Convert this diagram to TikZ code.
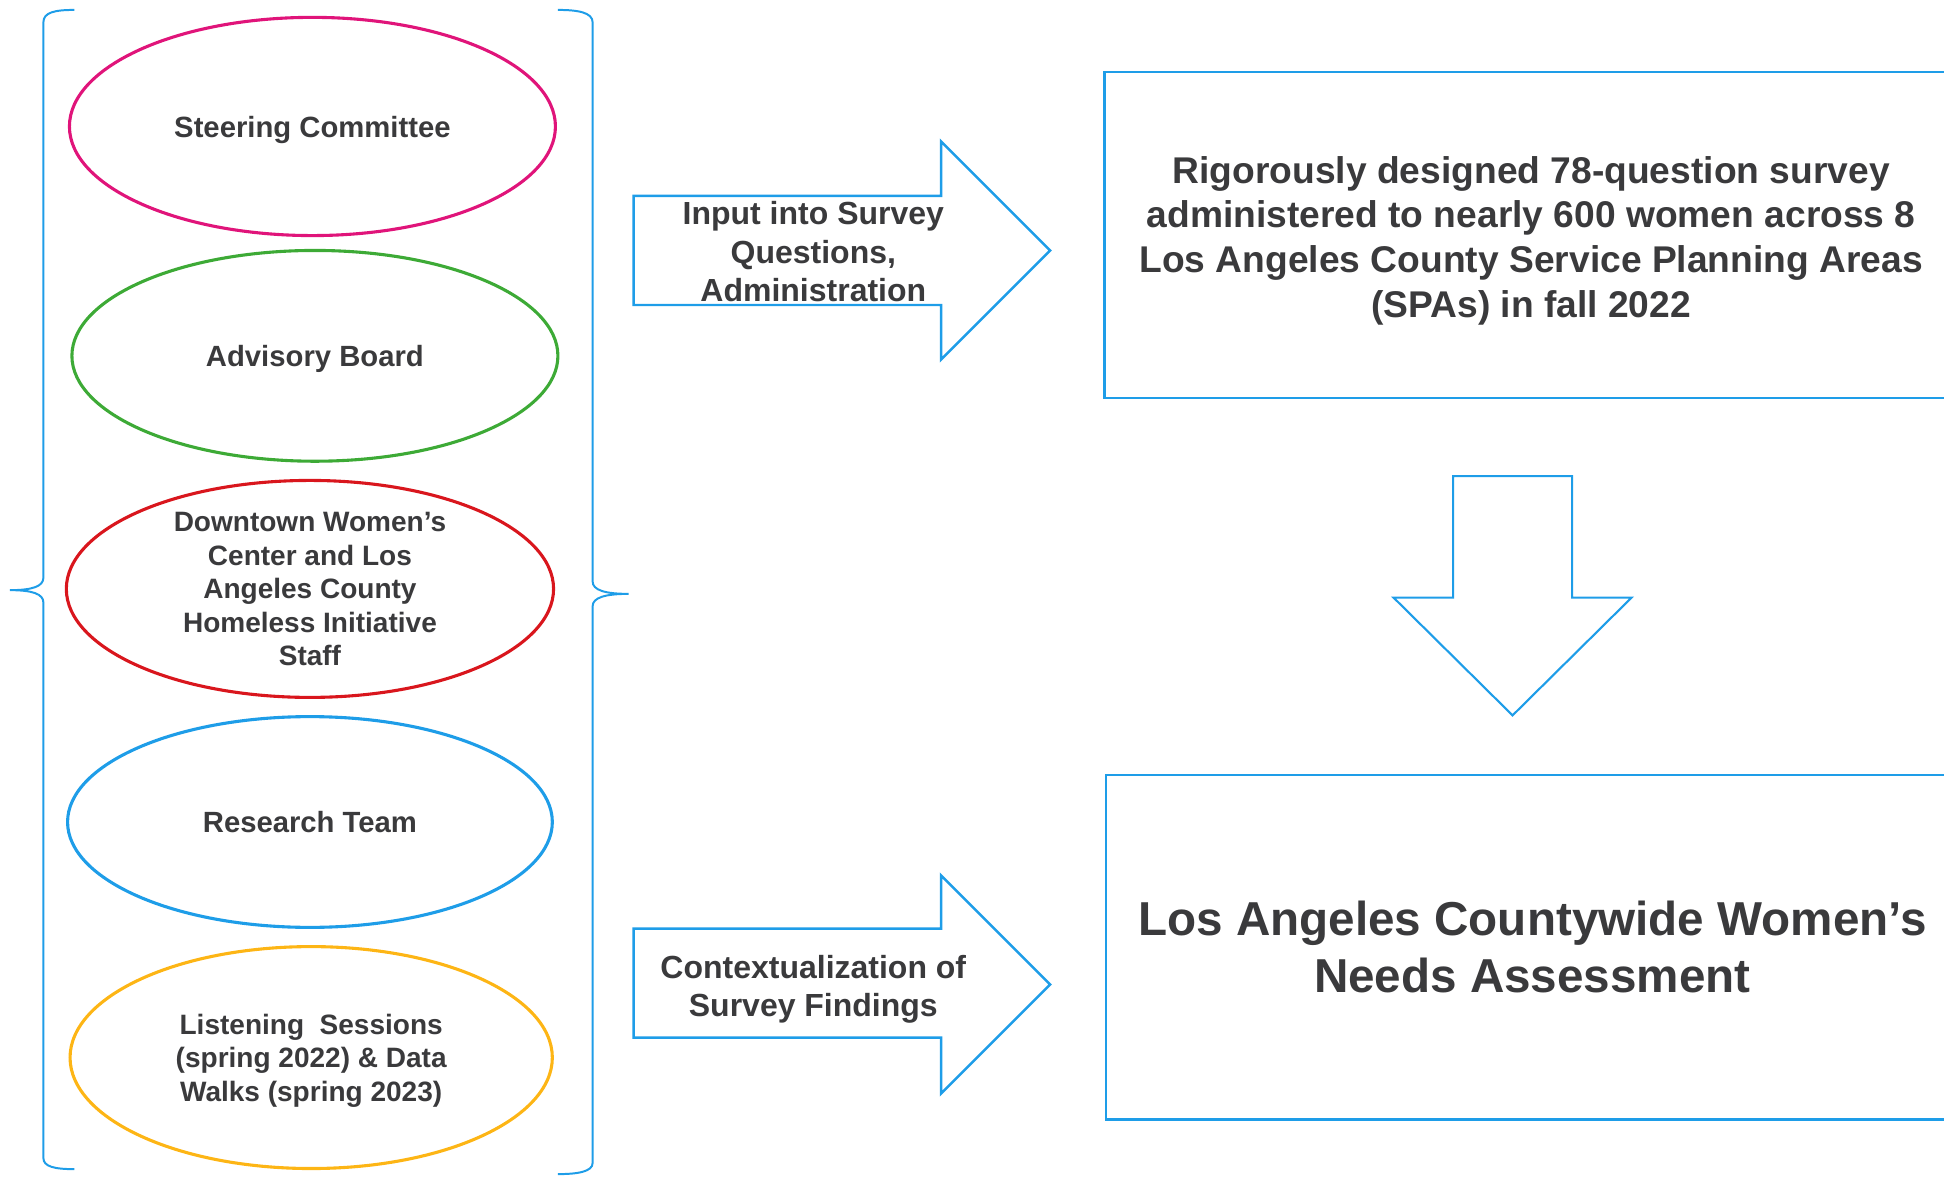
\documentclass[tikz,border=0pt]{standalone}
\usepackage{fontspec}
\setmainfont{Liberation Sans}
\usetikzlibrary{shapes.geometric}
\definecolor{txt}{HTML}{3A3A3C}
\definecolor{cmag}{HTML}{E0147A}
\definecolor{cgreen}{HTML}{3DAA36}
\definecolor{cred}{HTML}{D9161D}
\definecolor{cblue}{HTML}{1E9DE8}
\definecolor{cgold}{HTML}{FDB515}
\tikzset{
  ell/.style={ellipse, draw, line width=1.25pt, inner sep=0pt, align=center, text=txt, text depth=0pt,
    font=\bfseries\fontsize{11.8}{13.5}\selectfont},
  ellsmall/.style={font=\bfseries\fontsize{11.3}{13.5}\selectfont},
  brace/.style={draw=cblue, line width=0.8pt},
  blockarrow/.style={draw=cblue, line width=1pt, line join=miter},
  boxline/.style={draw=cblue, line width=1.1pt},
  atext/.style={align=center, text=txt, inner sep=0pt, text depth=0pt, font=\bfseries\fontsize{12.9}{15.5}\selectfont},
  btext/.style={align=center, text=txt, inner sep=0pt, text depth=0pt, font=\bfseries\fontsize{15}{18}\selectfont},
  ctext/.style={align=center, text=txt, inner sep=0pt, font=\bfseries\fontsize{19.2}{23}\selectfont}
}
\begin{document}
\begin{tikzpicture}[x=0.5pt,y=-0.5pt]
\useasboundingbox (0,0) rectangle (1568,949.3);
\clip (0,0) rectangle (1568,949.3);

% braces
\draw[brace] (60,8) .. controls (44,8) and (35,10) .. (35,18) -- (35,466)
  .. controls (35,473) and (26,476) .. (8,476)
  .. controls (26,476) and (35,479) .. (35,486) -- (35,934)
  .. controls (35,941) and (44,943) .. (60,943);
\draw[brace] (450,8) .. controls (466,8) and (478,10) .. (478,18) -- (478,469)
  .. controls (478,476) and (488,479) .. (507,479)
  .. controls (488,479) and (478,482) .. (478,489) -- (478,938)
  .. controls (478,945) and (466,947) .. (450,947);

% ellipses
\node[ell, draw=cmag, minimum width=196pt, minimum height=88pt] (e1) at (252,102) {Steering Committee};
\node[ell, draw=cgreen, minimum width=196pt, minimum height=85pt] (e2) at (254,287) {Advisory Board};
\node[ell, ellsmall, draw=cred, minimum width=196.5pt, minimum height=87.5pt] (e3) at (250,475) {Downtown Women’s\\Center and Los\\Angeles County\\Homeless Initiative\\Staff};
\node[ell, draw=cblue, minimum width=195.5pt, minimum height=85pt] (e4) at (250,663) {Research Team};
\node[ell, ellsmall, draw=cgold, minimum width=194.5pt, minimum height=89.5pt] (e5) at (251,853) {Listening\ \ Sessions\\(spring 2022) \& Data\\Walks (spring 2023)};

% block arrows
\draw[blockarrow] (511,158) -- (759,158) -- (759,114) -- (847,202) -- (759,290) -- (759,246) -- (511,246) -- cycle;
\draw[blockarrow] (511,749) -- (759,749) -- (759,706) -- (847,794) -- (759,882) -- (759,837) -- (511,837) -- cycle;
\draw[blockarrow, line width=0.85pt] (1172,384) -- (1268,384) -- (1268,482) -- (1316,482) -- (1220,577) -- (1124,482) -- (1172,482) -- cycle;

\node[atext] (a1) at (656,203) {Input into Survey\\Questions,\\Administration};
\node[atext] (a2) at (656,795) {Contextualization of\\Survey Findings};

% boxes
\draw[boxline] (891,58) rectangle (1620,321);
\draw[boxline] (892,625) rectangle (1620,903);
\node[btext] (b1) at (1235,191) {Rigorously designed 78-question survey\\administered to nearly 600 women across 8\\Los Angeles County Service Planning Areas\\(SPAs) in fall 2022};
\node[ctext] (b2) at (1236,764) {Los Angeles Countywide Women’s\\Needs Assessment};
\end{tikzpicture}
\end{document}
